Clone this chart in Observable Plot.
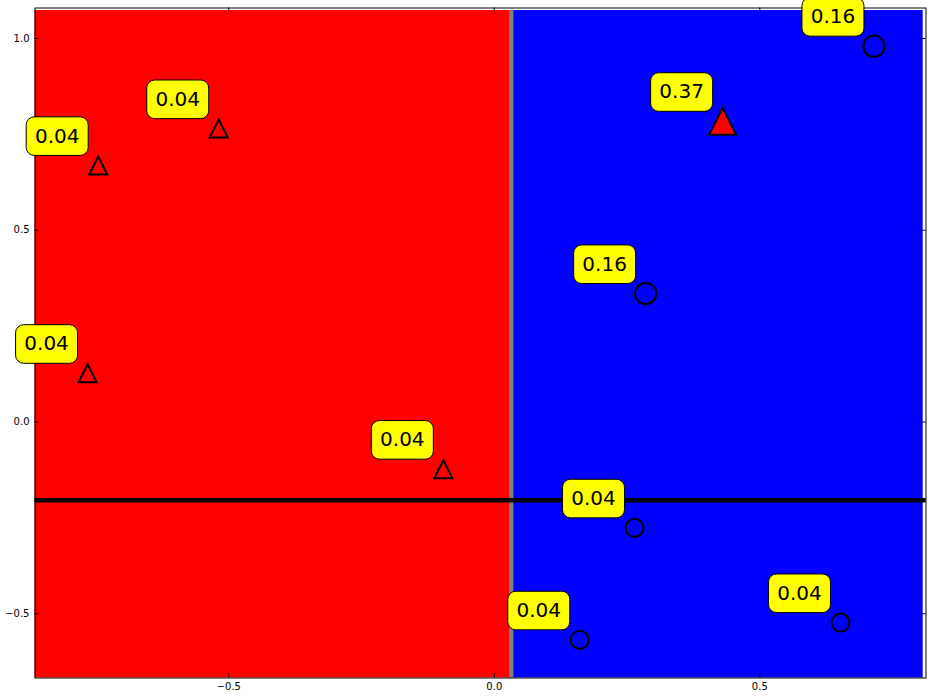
<!DOCTYPE html>
<html>
<head>
<meta charset="utf-8">
<script src="https://cdn.jsdelivr.net/npm/d3@7"></script>
<script src="https://cdn.jsdelivr.net/npm/@observablehq/plot@0.6"></script>
<style>
  body { margin: 0; background: #fff; }
</style>
</head>
<body>
<div id="chart"></div>
<script>
// ---- data ----
const xTicks = [-0.5, 0.0, 0.5];
const yTicks = [-0.5, 0.0, 0.5, 1.0];
const xDomain = [-0.865, 0.813];
const yDomain = [-0.6675, 1.0795];

const regionColor = ["#ff0000", "#0000ff"];
const regionX1 = [-0.865, 0.032];
const regionX2 = [0.032, 0.8077];
const regionY1 = [-0.6675, -0.6675];
const regionY2 = [1.073, 1.073];

const splitX = [0.032];
const splitY = [-0.204];

const pointX = [-0.746, -0.519, -0.766, -0.096, 0.430, 0.715, 0.285, 0.264, 0.161, 0.652];
const pointY = [0.669, 0.765, 0.127, -0.123, 0.784, 0.980, 0.335, -0.276, -0.568, -0.523];
const pointClass = ["triangle", "triangle", "triangle", "triangle", "triangle",
                    "circle", "circle", "circle", "circle", "circle"];
const pointWeight = [0.04, 0.04, 0.04, 0.04, 0.37, 0.16, 0.16, 0.04, 0.04, 0.04];
const pointFlagged = [false, false, false, false, true, false, false, false, false, false];

// ---- tables ----
const regions = regionColor.map((c, i) => ({c, x1: regionX1[i], x2: regionX2[i], y1: regionY1[i], y2: regionY2[i]}));
const points = pointX.map((x, i) => ({x, y: pointY[i], cls: pointClass[i], w: pointWeight[i], flagged: pointFlagged[i]}));

// ---- custom symbols ----
const triangleSymbol = {
  draw(ctx, size) {
    const h = Math.sqrt(size / Math.PI);
    ctx.moveTo(0, -h);
    ctx.lineTo(h, h);
    ctx.lineTo(-h, h);
    ctx.closePath();
  }
};
const boxSymbol = {
  draw(ctx) {
    const w = 62, h = 38.6, r = 8;
    const x0 = -w / 2, y0 = -h / 2, x1 = w / 2, y1 = h / 2;
    ctx.moveTo(x0 + r, y0);
    ctx.lineTo(x1 - r, y0);
    ctx.arcTo(x1, y0, x1, y0 + r, r);
    ctx.lineTo(x1, y1 - r);
    ctx.arcTo(x1, y1, x1 - r, y1, r);
    ctx.lineTo(x0 + r, y1);
    ctx.arcTo(x0, y1, x0, y1 - r, r);
    ctx.lineTo(x0, y0 + r);
    ctx.arcTo(x0, y0, x0 + r, y0, r);
    ctx.closePath();
  }
};

const W = 933, H = 698;
const mL = 34.5, mR = 7.5, mT = 7.5, mB = 20.5;
const innerW = W - mL - mR, innerH = H - mT - mB;
const tickLen = 4;
const labelDx = -41, labelDy = -29.3;
const fmt = d3.format(".1f");

const chart = Plot.plot({
  width: W,
  height: H,
  marginLeft: mL,
  marginRight: mR,
  marginTop: mT,
  marginBottom: mB,
  style: {fontFamily: "'DejaVu Sans', sans-serif", fontSize: "10px", color: "black", background: "white"},
  x: {domain: xDomain},
  y: {domain: yDomain},
  color: {type: "identity"},
  r: {type: "linear", domain: [0.04, 0.37], range: [9, 13.5]},
  marks: [
    Plot.rect(regions, {x1: "x1", x2: "x2", y1: "y1", y2: "y2", fill: "c"}),
    Plot.ruleX(splitX, {y1: regionY1[0], y2: regionY2[0], stroke: "#808080", strokeWidth: 4.2}),
    Plot.ruleY(splitY, {stroke: "black", strokeWidth: 4.5}),
    Plot.frame({stroke: "black", strokeWidth: 1}),
    // inward ticks on all four sides
    Plot.tickY(yTicks, {insetRight: innerW - tickLen, stroke: "black"}),
    Plot.tickY(yTicks, {insetLeft: innerW - tickLen, stroke: "black"}),
    Plot.tickX(xTicks, {insetTop: innerH - tickLen, stroke: "black"}),
    Plot.tickX(xTicks, {insetBottom: innerH - tickLen, stroke: "black"}),
    Plot.axisX({ticks: xTicks, tickFormat: fmt, tickSize: 0, tickPadding: 5, label: null, fontSize: 10}),
    Plot.axisY({ticks: yTicks, tickFormat: fmt, tickSize: 0, tickPadding: 5.5, label: null, fontSize: 10}),
    Plot.dot(points.filter(d => d.cls === "triangle"), {
      x: "x", y: "y", r: "w", symbol: triangleSymbol,
      fill: d => d.flagged ? "#ff0000" : "none", stroke: "black", strokeWidth: 2
    }),
    Plot.dot(points.filter(d => d.cls === "circle"), {
      x: "x", y: "y", r: "w", symbol: "circle",
      fill: d => d.flagged ? "#ff0000" : "none", stroke: "black", strokeWidth: 2
    }),
    Plot.dot(points, {
      x: "x", y: "y", r: 1, symbol: boxSymbol, dx: labelDx, dy: labelDy,
      fill: "#ffff00", stroke: "black", strokeWidth: 1
    }),
    Plot.text(points, {
      x: "x", y: "y", text: d => d.w.toFixed(2), dx: labelDx, dy: labelDy,
      fontSize: 20, fill: "black"
    })
  ]
});
document.getElementById("chart").appendChild(chart);
</script>
</body>
</html>
